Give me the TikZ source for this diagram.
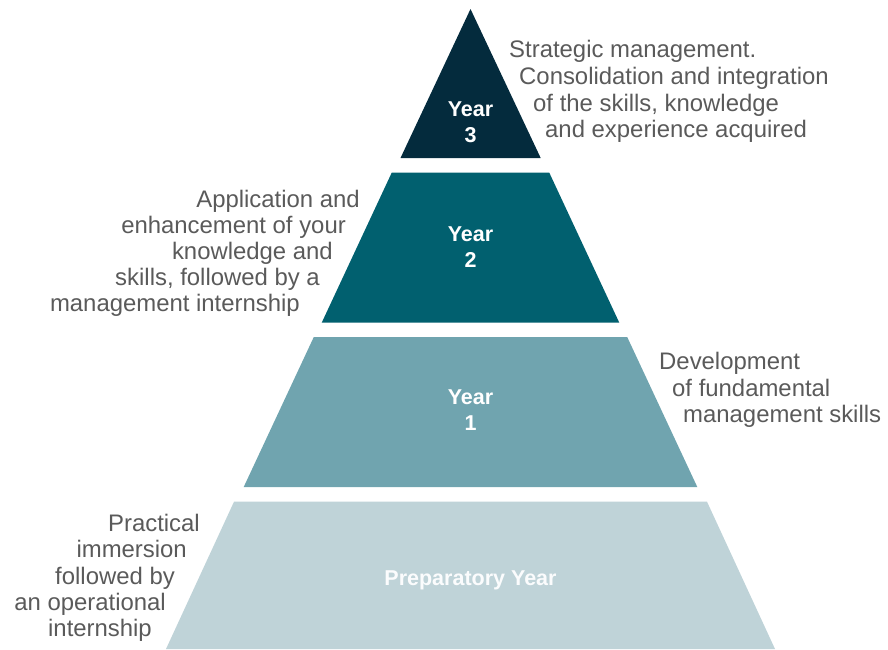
\documentclass[tikz,border=0pt]{standalone}
\usepackage{fontspec}
\setmainfont{Liberation Sans}
\definecolor{yearthree}{HTML}{042B3D}
\definecolor{yeartwo}{HTML}{01606F}
\definecolor{yearone}{HTML}{70A4AF}
\definecolor{yearprep}{HTML}{BFD3D8}
\definecolor{desctext}{HTML}{5A5A5A}
\tikzset{
  desc/.style={inner sep=0pt, text=desctext, font=\fontsize{23.9}{26}\selectfont},
  lbl/.style={inner sep=0pt, text=white, font=\fontsize{21.5}{26}\selectfont\bfseries, anchor=base},
  lblprep/.style={inner sep=0pt, text=white!94!yearprep, font=\fontsize{21.5}{26}\selectfont\bfseries, anchor=base},
}
\begin{document}
\begin{tikzpicture}[x=1pt,y=-1pt]
\useasboundingbox (0,0) rectangle (888,649);
% layers
\fill[yearthree] (470.5,9) -- (540.7,158) -- (400.5,158) -- cycle;
\fill[yeartwo] (391.7,172.7) -- (549.3,172.7) -- (619.3,322.7) -- (321.7,322.7) -- cycle;
\fill[yearone] (313.7,337.2) -- (627.3,337.2) -- (697.3,487) -- (243.7,487) -- cycle;
\fill[yearprep] (234,501.7) -- (707,501.7) -- (775,649) -- (166,649) -- cycle;
% layer labels
\node[lbl] (y3a) at (470.5,116) {Year};
\node[lbl] (y3b) at (470.5,142) {3};
\node[lbl] (y2a) at (470.5,241) {Year};
\node[lbl] (y2b) at (470.5,267) {2};
\node[lbl] (y1a) at (470.5,404) {Year};
\node[lbl] (y1b) at (470.5,430) {1};
\node[lblprep] (yp) at (470.5,585) {Preparatory Year};
% top right description
\node[desc, anchor=base west] (t1) at (509,57) {Strategic management.};
\node[desc, anchor=base west] (t2) at (519,84) {Consolidation and integration};
\node[desc, anchor=base west] (t3) at (533,111) {of the skills, knowledge};
\node[desc, anchor=base west] (t4) at (545,137) {and experience acquired};
% year 2 description
\node[desc, anchor=base east] (s1) at (360,207) {Application and};
\node[desc, anchor=base east] (s2) at (346,233) {enhancement of your};
\node[desc, anchor=base east] (s3) at (333,259) {knowledge and};
\node[desc, anchor=base east] (s4) at (320,285) {skills, followed by a};
\node[desc, anchor=base east] (s5) at (300,311) {management internship};
% year 1 description
\node[desc, anchor=base west] (f1) at (659,369) {Development};
\node[desc, anchor=base west] (f2) at (672,396) {of fundamental};
\node[desc, anchor=base west] (f3) at (683,422) {management skills};
% prep description
\node[desc, anchor=base east] (p1) at (200,531) {Practical};
\node[desc, anchor=base east] (p2) at (187,557) {immersion};
\node[desc, anchor=base east] (p3) at (175,584) {followed by};
\node[desc, anchor=base east] (p4) at (166,610) {an operational};
\node[desc, anchor=base east] (p5) at (152,636) {internship};
\end{tikzpicture}
\end{document}
